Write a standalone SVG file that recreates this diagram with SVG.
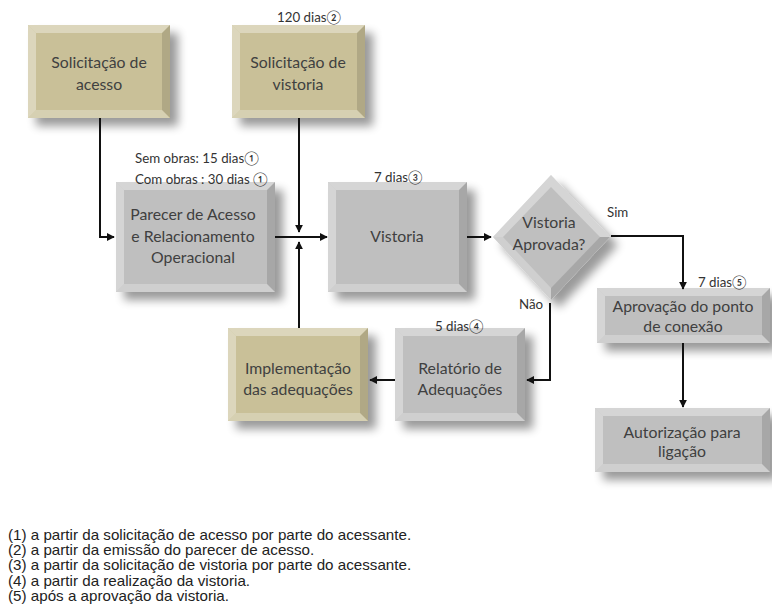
<svg xmlns="http://www.w3.org/2000/svg" width="772" height="614" viewBox="0 0 772 614">
<defs>
<filter id="sh" x="-20%" y="-20%" width="150%" height="150%">
<feGaussianBlur in="SourceAlpha" stdDeviation="5"/>
<feOffset dx="8" dy="8" result="b"/>
<feComponentTransfer><feFuncA type="linear" slope="0.4"/></feComponentTransfer>
<feMerge><feMergeNode/><feMergeNode in="SourceGraphic"/></feMerge>
</filter>
<marker id="ar" viewBox="0 0 10 10" refX="9" refY="5" markerWidth="4" markerHeight="4" orient="auto">
<path d="M0,0 L10,5 L0,10 z" fill="#111"/>
</marker>
</defs>
<style>
.tan{fill:#c9c098}
.gry{fill:#bfbfbf}
.bl{fill:#fff;opacity:.35}
.bd{fill:#000;opacity:.12}
.bb{fill:#fff;opacity:.25}
.nt{font-family:Lato,"Open Sans",sans-serif;font-size:15.8px;fill:#404040;text-anchor:middle}
.lb{font-family:Lato,"Open Sans",sans-serif;font-size:13.3px;fill:#333}
.fn{font-family:"Liberation Sans",Arial,sans-serif;font-size:13.8px;fill:#222}
.cn{fill:none;stroke:#111;stroke-width:2}
</style>
<rect width="772" height="614" fill="#fff"/>

<g id="n-sol-acesso">
<g filter="url(#sh)"><rect class="tan" x="28" y="25" width="142" height="93"/></g>
<polygon class="bl" points="28,25 170,25 162,33 36,33"/>
<polygon class="bl" points="28,25 36,33 36,110 28,118"/>
<polygon class="bd" points="170,25 170,118 162,110 162,33"/>
<polygon class="bb" points="28,118 36,110 162,110 170,118"/>
<text class="nt" x="99" y="68">Solicitação de</text>
<text class="nt" x="99" y="90">acesso</text>
</g>

<g id="n-sol-vistoria">
<g filter="url(#sh)"><rect class="tan" x="232" y="25" width="133" height="93"/></g>
<polygon class="bl" points="232,25 365,25 357,33 240,33"/>
<polygon class="bl" points="232,25 240,33 240,110 232,118"/>
<polygon class="bd" points="365,25 365,118 357,110 357,33"/>
<polygon class="bb" points="232,118 240,110 357,110 365,118"/>
<text class="nt" x="298" y="68">Solicitação de</text>
<text class="nt" x="298" y="90">vistoria</text>
</g>

<g id="n-parecer">
<g filter="url(#sh)"><rect class="gry" x="116" y="182" width="159" height="110"/></g>
<polygon class="bl" points="116,182 275,182 267,190 124,190"/>
<polygon class="bl" points="116,182 124,190 124,284 116,292"/>
<polygon class="bd" points="275,182 275,292 267,284 267,190"/>
<polygon class="bb" points="116,292 124,284 267,284 275,292"/>
<text class="nt" x="193" y="220">Parecer de Acesso</text>
<text class="nt" x="193" y="242">e Relacionamento</text>
<text class="nt" x="193" y="263">Operacional</text>
</g>

<g id="n-vistoria">
<g filter="url(#sh)"><rect class="gry" x="328" y="182" width="139" height="110"/></g>
<polygon class="bl" points="328,182 467,182 459,190 336,190"/>
<polygon class="bl" points="328,182 336,190 336,284 328,292"/>
<polygon class="bd" points="467,182 467,292 459,284 459,190"/>
<polygon class="bb" points="328,292 336,284 459,284 467,292"/>
<text class="nt" x="397" y="242">Vistoria</text>
</g>

<g id="n-decisao">
<g filter="url(#sh)"><polygon class="gry" points="551,175 610,237 551,300 493,237"/></g>
<polygon class="bl" points="551,175 493,237 503,237 551,187"/>
<polygon class="bl" points="551,175 610,237 600,237 551,187"/>
<polygon class="bd" points="610,237 551,300 551,288 600,237"/>
<polygon class="bb" points="493,237 551,300 551,288 503,237"/>
<text class="nt" x="549" y="228">Vistoria</text>
<text class="nt" x="549" y="250">Aprovada?</text>
</g>

<g id="n-aprovacao">
<g filter="url(#sh)"><rect class="gry" x="597" y="288" width="173" height="55"/></g>
<polygon class="bl" points="597,288 770,288 762,296 605,296"/>
<polygon class="bl" points="597,288 605,296 605,335 597,343"/>
<polygon class="bd" points="770,288 770,343 762,335 762,296"/>
<polygon class="bb" points="597,343 605,335 762,335 770,343"/>
<text class="nt" x="683" y="312">Aprovação do ponto</text>
<text class="nt" x="683" y="332">de conexão</text>
</g>

<g id="n-autorizacao">
<g filter="url(#sh)"><rect class="gry" x="595" y="408" width="175" height="64"/></g>
<polygon class="bl" points="595,408 770,408 762,416 603,416"/>
<polygon class="bl" points="595,408 603,416 603,464 595,472"/>
<polygon class="bd" points="770,408 770,472 762,464 762,416"/>
<polygon class="bb" points="595,472 603,464 762,464 770,472"/>
<text class="nt" x="682" y="438">Autorização para</text>
<text class="nt" x="682" y="457">ligação</text>
</g>

<g id="n-implementacao">
<g filter="url(#sh)"><rect class="tan" x="228" y="328" width="140" height="93"/></g>
<polygon class="bl" points="228,328 368,328 360,336 236,336"/>
<polygon class="bl" points="228,328 236,336 236,413 228,421"/>
<polygon class="bd" points="368,328 368,421 360,413 360,336"/>
<polygon class="bb" points="228,421 236,413 360,413 368,421"/>
<text class="nt" x="298" y="374">Implementação</text>
<text class="nt" x="298" y="395">das adequações</text>
</g>

<g id="n-relatorio">
<g filter="url(#sh)"><rect class="gry" x="395" y="328" width="130" height="93"/></g>
<polygon class="bl" points="395,328 525,328 517,336 403,336"/>
<polygon class="bl" points="395,328 403,336 403,413 395,421"/>
<polygon class="bd" points="525,328 525,421 517,413 517,336"/>
<polygon class="bb" points="395,421 403,413 517,413 525,421"/>
<text class="nt" x="460" y="374">Relatório de</text>
<text class="nt" x="460" y="395">Adequações</text>
</g>

<g id="connectors">
<path class="cn" d="M100,118 V237 H114" marker-end="url(#ar)"/>
<path class="cn" d="M275,237 H327" marker-end="url(#ar)"/>
<path class="cn" d="M299,118 V232" marker-end="url(#ar)"/>
<path class="cn" d="M299,328 V242" marker-end="url(#ar)"/>
<path class="cn" d="M467,237 H491" marker-end="url(#ar)"/>
<path class="cn" d="M611,236 H683 V289" marker-end="url(#ar)"/>
<path class="cn" d="M550,303 V380 H527" marker-end="url(#ar)"/>
<path class="cn" d="M395,380 H370" marker-end="url(#ar)"/>
<path class="cn" d="M683,343 V407" marker-end="url(#ar)"/>
</g>

<g id="labels">
<text class="lb" x="277" y="22">120 dias②</text>
<text class="lb" x="135" y="163">Sem obras: 15 dias①</text>
<text class="lb" x="135" y="184">Com obras : 30 dias ①</text>
<text class="lb" x="374" y="182">7 dias③</text>
<text class="lb" x="607" y="217">Sim</text>
<text class="lb" x="519" y="309">Não</text>
<text class="lb" x="698" y="287">7 dias⑤</text>
<text class="lb" x="435" y="331">5 dias④</text>
</g>

<g id="footnotes" transform="translate(8,0) scale(1.1,1)">
<text class="fn" x="0" y="540">(1) a partir da solicitação de acesso por parte do acessante.</text>
<text class="fn" x="0" y="555">(2) a partir da emissão do parecer de acesso.</text>
<text class="fn" x="0" y="570">(3) a partir da solicitação de vistoria por parte do acessante.</text>
<text class="fn" x="0" y="586">(4) a partir da realização da vistoria.</text>
<text class="fn" x="0" y="601">(5) após a aprovação da vistoria.</text>
</g>
</svg>
